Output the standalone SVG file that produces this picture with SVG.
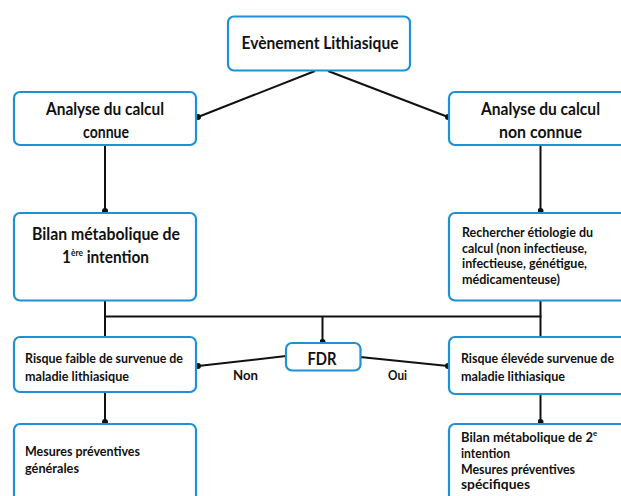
<svg xmlns="http://www.w3.org/2000/svg" width="621" height="496" viewBox="0 0 621 496">
<defs>
<style>
.box{fill:#fff;stroke:#1e90d6;stroke-width:2.2}
.c{fill:none;stroke:#111;stroke-width:2}
text{font-family:Lato,"Liberation Sans",Arial,sans-serif;font-weight:bold;fill:#111}
.h{font-size:16.5px}
.s{font-size:13.5px}
.m{text-anchor:middle}
</style>
<marker id="dot" viewBox="0 0 6 6" refX="3" refY="3" markerWidth="3" markerHeight="3" markerUnits="strokeWidth"><circle cx="3" cy="3" r="3" fill="#111"/></marker>
</defs>
<g id="connectors">
<path class="c" d="M315 71 L198 117" marker-end="url(#dot)"/>
<path class="c" d="M328 71 L448 117" marker-end="url(#dot)"/>
<path class="c" d="M105 145 L105 211" marker-end="url(#dot)"/>
<path class="c" d="M540.5 145 L540.5 211" marker-end="url(#dot)"/>
<path class="c" d="M105 300 L105 337"/>
<path class="c" d="M540.5 300 L540.5 337"/>
<path class="c" d="M104 316.5 L541.5 316.5"/>
<path class="c" d="M322.5 316.5 L322.5 342" marker-end="url(#dot)"/>
<path class="c" d="M286 356 L198 366" marker-end="url(#dot)"/>
<path class="c" d="M360 357 L448 366" marker-end="url(#dot)"/>
<path class="c" d="M105 392 L105 422" marker-end="url(#dot)"/>
<path class="c" d="M540.5 394 L540.5 422" marker-end="url(#dot)"/>
<text class="s" x="233" y="380" textLength="25" lengthAdjust="spacingAndGlyphs">Non</text>
<text class="s" x="388" y="380" textLength="19" lengthAdjust="spacingAndGlyphs">Oui</text>
</g>
<g id="evenement">
<rect class="box" x="228" y="16.5" width="182" height="54" rx="6"/>
<text class="h m" x="320" y="48.5" textLength="157" lengthAdjust="spacingAndGlyphs">Evènement Lithiasique</text>
</g>
<g id="analyse-connue">
<rect class="box" x="14" y="92" width="182" height="53" rx="6"/>
<text class="h m" x="105" y="114.5" textLength="118" lengthAdjust="spacingAndGlyphs">Analyse du calcul</text>
<text class="h m" x="106" y="137.5" textLength="46" lengthAdjust="spacingAndGlyphs">connue</text>
</g>
<g id="analyse-non-connue">
<rect class="box" x="449" y="92" width="182" height="53" rx="6"/>
<text class="h m" x="540.5" y="114.5" textLength="119" lengthAdjust="spacingAndGlyphs">Analyse du calcul</text>
<text class="h m" x="540.5" y="137.5" textLength="83" lengthAdjust="spacingAndGlyphs">non connue</text>
</g>
<g id="bilan-1">
<rect class="box" x="14" y="213" width="182" height="87.5" rx="6"/>
<text class="h m" x="106" y="239.5" textLength="148" lengthAdjust="spacingAndGlyphs">Bilan métabolique de</text>
<text class="h" x="62" y="262.5" textLength="87" lengthAdjust="spacingAndGlyphs">1<tspan font-size="9" dy="-7">ère</tspan><tspan dy="7"> intention</tspan></text>
</g>
<g id="rechercher">
<rect class="box" x="449" y="213" width="182" height="87.5" rx="6"/>
<text class="s" x="462" y="236.5" textLength="131" lengthAdjust="spacingAndGlyphs">Rechercher étiologie du</text>
<text class="s" x="462" y="252.5" textLength="125" lengthAdjust="spacingAndGlyphs">calcul (non infectieuse,</text>
<text class="s" x="462" y="267.5" textLength="125" lengthAdjust="spacingAndGlyphs">infectieuse, génétigue,</text>
<text class="s" x="462" y="283.5" textLength="98" lengthAdjust="spacingAndGlyphs">médicamenteuse)</text>
</g>
<g id="fdr">
<rect class="box" x="286" y="343" width="74.5" height="27.5" rx="6"/>
<text class="h m" x="322" y="364.5" textLength="29" lengthAdjust="spacingAndGlyphs">FDR</text>
</g>
<g id="risque-faible">
<rect class="box" x="14" y="337" width="182" height="55" rx="6"/>
<text class="s" x="25" y="362.5" textLength="158" lengthAdjust="spacingAndGlyphs">Risque faible de survenue de</text>
<text class="s" x="25" y="380.5" textLength="104" lengthAdjust="spacingAndGlyphs">maladie lithiasique</text>
</g>
<g id="risque-eleve">
<rect class="box" x="449" y="337" width="182" height="57" rx="6"/>
<text class="s" x="461" y="362.5" textLength="153" lengthAdjust="spacingAndGlyphs">Risque élevéde survenue de</text>
<text class="s" x="461" y="380.5" textLength="104" lengthAdjust="spacingAndGlyphs">maladie lithiasique</text>
</g>
<g id="mesures-generales">
<rect class="box" x="14" y="424" width="182" height="90" rx="6"/>
<text class="s" x="25" y="455.5" textLength="115" lengthAdjust="spacingAndGlyphs">Mesures préventives</text>
<text class="s" x="25" y="472.5" textLength="54" lengthAdjust="spacingAndGlyphs">générales</text>
</g>
<g id="bilan-2">
<rect class="box" x="449" y="424" width="182" height="90" rx="6"/>
<text class="s" x="461" y="442" textLength="136" lengthAdjust="spacingAndGlyphs">Bilan métabolique de 2<tspan font-size="8" dy="-6">e</tspan></text>
<text class="s" x="461" y="457.5" textLength="49" lengthAdjust="spacingAndGlyphs">intention</text>
<text class="s" x="461" y="473.5" textLength="114" lengthAdjust="spacingAndGlyphs">Mesures préventives</text>
<text class="s" x="461" y="488.5" textLength="69" lengthAdjust="spacingAndGlyphs">spécifiques</text>
</g>
</svg>
